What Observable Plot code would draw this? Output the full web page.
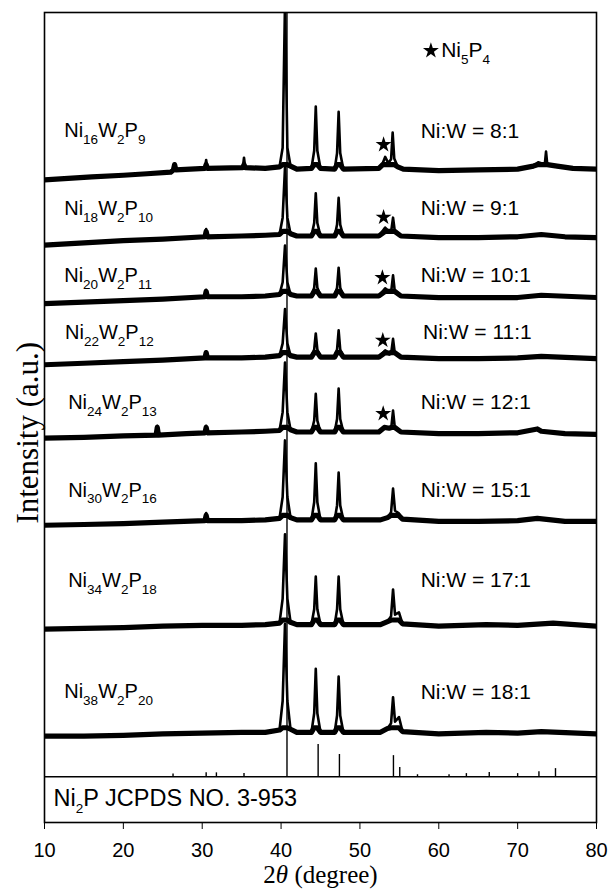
<!DOCTYPE html>
<html><head><meta charset="utf-8">
<script src="https://cdn.jsdelivr.net/npm/d3@7"></script>
<script src="https://cdn.jsdelivr.net/npm/@observablehq/plot@0.6"></script>
<style>
html,body{margin:0;padding:0;background:#fff;}
#chart svg{display:block;}
</style>
</head><body><div id="chart"></div>
<script>
// ---------- data ----------
const xTicks = [10, 20, 30, 40, 50, 60, 70, 80];
const formulas = ["Ni_{16}W_{2}P_{9}", "Ni_{18}W_{2}P_{10}", "Ni_{20}W_{2}P_{11}", "Ni_{22}W_{2}P_{12}",
                  "Ni_{24}W_{2}P_{13}", "Ni_{30}W_{2}P_{16}", "Ni_{34}W_{2}P_{18}", "Ni_{38}W_{2}P_{20}"];
const ratios = ["Ni:W = 8:1", "Ni:W = 9:1", "Ni:W = 10:1", "Ni:W = 11:1",
                "Ni:W = 12:1", "Ni:W = 15:1", "Ni:W = 17:1", "Ni:W = 18:1"];
const offsets = [79.3, 70.55, 62.7, 54.7, 44.9, 33.4, 19.7, 5.6];      // stacking offset of each pattern
const labelY  = [84.5, 74.4, 65.6, 58.1, 49.0, 37.5, 25.7, 11.1];      // label heights
const leftX   = [12.5, 12.5, 12.5, 12.6, 13.0, 13.0, 13.0, 12.5];
const rightX  = [57.7, 57.7, 57.7, 58.0, 57.7, 57.7, 57.7, 57.7];

// diffraction patterns: [2θ, intensity above own baseline]
const curve1 = [[10,-1.2],[13,-1.0],[16,-0.8],[20,-0.6],[23,-0.4],[26,-0.2],[26.35,0.1],[26.5,0.9],[26.65,0.1],[30.35,0.3],[30.5,1.4],[30.65,0.3],[35.15,0.4],[35.3,1.7],[35.45,0.4],[38,0.3],[39.8,0.5],[40.2,3.0],[40.5,22],[40.8,3.0],[41.2,0.6],[42,0.2],[43.85,0.3],[44.2,2.6],[44.4,8.4],[44.6,2.6],[45.0,0.3],[46.8,0.2],[47.1,2.3],[47.3,7.7],[47.5,2.3],[47.9,0.2],[52.4,0.3],[52.9,1.0],[53.2,1.8],[53.6,1.0],[53.95,1.5],[54.15,5.0],[54.35,1.6],[54.8,0.5],[55.5,0.2],[60,0],[65,0.1],[70,0.2],[72.0,0.6],[72.6,1.1],[73.2,0.9],[73.45,0.9],[73.6,2.5],[73.75,0.9],[75,0.6],[77,0.3],[80,0.2]];
const curve2 = [[10,-1.0],[15,-0.7],[20,-0.4],[25,-0.2],[30.35,0.1],[30.5,1.1],[30.65,0.1],[35,0.2],[38,0.3],[39.8,0.4],[40.2,2.6],[40.5,9.2],[40.8,2.6],[41.2,0.5],[42,0.2],[43.85,0.2],[44.2,1.9],[44.4,5.8],[44.6,1.9],[45.0,0.2],[46.8,0.2],[47.1,1.7],[47.3,5.2],[47.5,1.7],[47.9,0.2],[52.4,0.2],[53.2,1.3],[53.7,0.8],[54.0,1.1],[54.2,2.6],[54.4,1.0],[55.2,0.2],[60,0],[65,0],[70,0.1],[73,0.4],[76,0.1],[80,0]];
const curve3 = [[10,-0.8],[15,-0.6],[20,-0.4],[25,-0.2],[30.35,0.1],[30.5,1.0],[30.65,0.1],[35,0.1],[38,0.2],[39.8,0.4],[40.2,2.0],[40.5,6.8],[40.8,2.0],[41.2,0.4],[42,0.2],[43.85,0.2],[44.2,1.3],[44.4,3.8],[44.6,1.3],[45.0,0.2],[46.8,0.2],[47.1,1.3],[47.3,3.9],[47.5,1.3],[47.9,0.2],[52.4,0.2],[53.2,1.2],[53.7,0.8],[54.0,1.1],[54.2,2.9],[54.4,1.0],[55.2,0.2],[60,0],[65,0],[70,0],[73,0.3],[80,0]];
const curve4 = [[10,-0.8],[15,-0.6],[20,-0.4],[25,-0.2],[30.35,0.1],[30.5,0.9],[30.65,0.1],[35,0.1],[38,0.2],[39.8,0.4],[40.2,2.0],[40.5,6.5],[40.8,2.0],[41.2,0.4],[42,0.2],[43.85,0.2],[44.2,1.2],[44.4,3.3],[44.6,1.2],[45.0,0.2],[46.8,0.2],[47.1,1.2],[47.3,3.7],[47.5,1.2],[47.9,0.2],[52.4,0.2],[53.2,1.1],[53.7,0.7],[54.0,1.0],[54.2,2.6],[54.4,0.9],[55.2,0.2],[60,0],[65,0],[70,0.1],[73,0.3],[80,0]];
const curve5 = [[10,-0.6],[15,-0.5],[20,-0.3],[24.15,-0.2],[24.3,1.0],[24.45,-0.2],[28,0],[30.35,0.1],[30.5,1.0],[30.65,0.1],[35,0.2],[38,0.3],[39.8,0.4],[40.2,2.8],[40.5,9.3],[40.8,2.8],[41.2,0.5],[42,0.2],[43.85,0.2],[44.2,1.7],[44.4,5.2],[44.6,1.7],[45.0,0.2],[46.8,0.2],[47.1,1.9],[47.3,5.9],[47.5,1.9],[47.9,0.2],[52.4,0.2],[53.1,0.8],[53.7,0.7],[54.0,1.0],[54.2,3.0],[54.4,1.0],[55.2,0.2],[60,0],[65,0],[70,0.1],[72.5,0.6],[73,0.3],[76,0],[80,-0.1]];
const curve6 = [[10,-0.5],[15,-0.4],[20,-0.3],[25,-0.1],[30.35,0.1],[30.5,1.1],[30.65,0.1],[35,0.1],[38,0.2],[39.8,0.4],[40.2,3.2],[40.5,10.6],[40.8,3.2],[41.2,0.5],[42,0.2],[43.85,0.2],[44.2,2.5],[44.4,7.6],[44.6,2.5],[45.0,0.2],[46.8,0.2],[47.1,2.1],[47.3,6.4],[47.5,2.1],[47.9,0.2],[52.6,0.2],[53.5,0.5],[53.95,1.2],[54.2,4.3],[54.45,1.4],[54.9,1.1],[55.4,0.3],[60,0],[65,0],[70,0.1],[72.5,0.4],[76,0],[80,0]];
const curve7 = [[10,-0.4],[15,-0.3],[20,-0.2],[25,0],[30,0.1],[35,0.1],[38,0.2],[39.8,0.4],[40.2,3.6],[40.5,12.0],[40.8,3.6],[41.2,0.5],[42,0.2],[43.85,0.2],[44.2,2.2],[44.4,6.5],[44.6,2.2],[45.0,0.2],[46.8,0.2],[47.1,2.2],[47.3,6.5],[47.5,2.2],[47.9,0.2],[52.6,0.2],[53.5,0.6],[53.95,1.3],[54.2,4.8],[54.45,1.5],[54.95,1.8],[55.4,0.3],[60,0],[66,0.2],[70,0.1],[74.5,0.4],[80,0]];
const curve8 = [[10,-0.3],[15,-0.3],[20,-0.2],[25,0],[30,0.1],[35,0.2],[38,0.2],[39.8,0.5],[40.2,4.3],[40.5,14.4],[40.8,4.3],[41.2,0.6],[42,0.2],[43.85,0.2],[44.2,2.7],[44.4,8.5],[44.6,2.7],[45.0,0.2],[46.8,0.2],[47.1,2.4],[47.3,7.5],[47.5,2.4],[47.9,0.2],[52.6,0.2],[53.5,0.7],[53.95,1.4],[54.2,4.8],[54.45,1.6],[54.95,2.2],[55.4,0.3],[60,0],[66,0.2],[70,0.1],[73,0.3],[80,0]];
const noiseCap = 0.8;   // height of the noisy background band around each baseline

// Ni2P JCPDS 3-953 reference lines
const refPos = [26.3, 30.5, 31.8, 35.3, 40.75, 44.7, 47.4, 54.25, 55.05, 57.3, 61.3, 63.5, 66.4, 70.0, 72.7, 74.8];
const refInt = [0.35, 0.5, 0.5, 0.4, 100, 4.2, 2.9, 2.75, 1.2, 0.25, 0.25, 0.4, 0.55, 0.4, 0.65, 1.05];

// Ni5P4 star markers
const starX = [53.0, 53.0, 52.85, 52.9, 52.95];
const starY = [82.7, 73.2, 65.3, 57.1, 47.5];
const legendStar = {x: 59.0, y: 95.0};
const legendText = {x: 60.3, y: 95.0, label: "Ni_{5}P_{4}"};
const refText = {x: 11.15, y: -2.9, label: "Ni_{2}P JCPDS NO. 3-953"};
const yTitle = {y: 45.0, label: "Intensity (a.u.)"};
const xTitle = "2θ (degree)";

// ---------- build tables ----------
const curves = [curve1, curve2, curve3, curve4, curve5, curve6, curve7, curve8];
const rows = curves.flatMap((c, i) => c.map(([x, v]) => ({x, y: offsets[i] + v, band: offsets[i] + Math.min(v, noiseCap), s: i})));
const refRows = refPos.map((x, i) => ({x, h: refInt[i]}));
const stars = starX.map((x, i) => ({x, y: starY[i]}));
const leftLabels = formulas.map((t, i) => ({x: leftX[i], y: labelY[i], t}));
const rightLabels = ratios.map((t, i) => ({x: rightX[i], y: labelY[i], t}));

const SANS = "Liberation Sans, Arial, sans-serif";
const SERIF = "Liberation Serif, Times New Roman, serif";

const plot = Plot.plot({
  width: 610, height: 892,
  marginTop: 12, marginBottom: 70, marginLeft: 44, marginRight: 14,
  style: {fontFamily: SANS, fontSize: "20px", color: "black", background: "white"},
  x: {domain: [10, 80], ticks: xTicks, tickSize: 7, tickPadding: 13, label: null},
  y: {domain: [-6, 100], axis: null},
  marks: [
    Plot.ruleX(refRows, {x: "x", y1: 0, y2: "h", stroke: "black", strokeWidth: 1.4, clip: true}),
    Plot.line(rows, {x: "x", y: "band", z: "s", stroke: "black", strokeWidth: 5.2, strokeLinejoin: "round", clip: true}),
    Plot.line(rows, {x: "x", y: "y", z: "s", stroke: "black", strokeWidth: 2.6, strokeLinejoin: "round", clip: true}),
    Plot.ruleY([0], {stroke: "black", strokeWidth: 1.5}),
    Plot.frame({stroke: "black", strokeWidth: 1.6}),
    Plot.dot(stars, {x: "x", y: "y", symbol: "star", fill: "black", stroke: "none", r: 5}),
    Plot.dot([legendStar], {x: "x", y: "y", symbol: "star", fill: "black", stroke: "none", r: 5}),
    Plot.text(leftLabels, {x: "x", y: "y", text: "t", textAnchor: "start", fontSize: 20, fontFamily: SANS, fill: "black"}),
    Plot.text(rightLabels, {x: "x", y: "y", text: "t", textAnchor: "start", fontSize: 21, fontFamily: SANS, fill: "black"}),
    Plot.text([legendText], {x: "x", y: "y", text: "label", textAnchor: "start", fontSize: 21, fontFamily: SANS, fill: "black"}),
    Plot.text([refText], {x: "x", y: "y", text: "label", textAnchor: "start", fontSize: 23.5, fontFamily: SANS, fill: "black"}),
    Plot.text([yTitle], {frameAnchor: "left", y: "y", text: "label", rotate: -90, dx: -16, textAnchor: "middle", lineAnchor: "middle", fontSize: 31, fontFamily: SERIF, fill: "black"}),
    Plot.text([xTitle], {frameAnchor: "bottom", text: d => d, dy: 52, textAnchor: "middle", lineAnchor: "middle", fontSize: 25, fontFamily: SERIF, fill: "black"})
  ]
});
document.getElementById("chart").appendChild(plot);

// tick label size
d3.select(plot).selectAll('g[aria-label="x-axis tick label"]').style("font-size", "20px").attr("font-size", 20);

// subscripts for chemical formulas, italic theta
d3.select(plot).selectAll("text").each(function() {
  const t = d3.select(this);
  const s = t.text();
  if (s.includes("_{")) {
    const parts = s.split(/_\{(\d+)\}/);
    t.text(null);
    let shifted = false;
    parts.forEach((p, k) => {
      if (p === "") return;
      const sp = t.append("tspan").text(p);
      if (k % 2 === 1) { sp.attr("font-size", 13.5).attr("dy", shifted ? 0 : 7); shifted = true; }
      else if (shifted) { sp.attr("dy", -7); shifted = false; }
    });
  } else if (s === xTitle) {
    t.text(null);
    t.append("tspan").text("2");
    t.append("tspan").attr("font-style", "italic").text("θ");
    t.append("tspan").text(" (degree)");
  }
});
</script>
</body></html>
